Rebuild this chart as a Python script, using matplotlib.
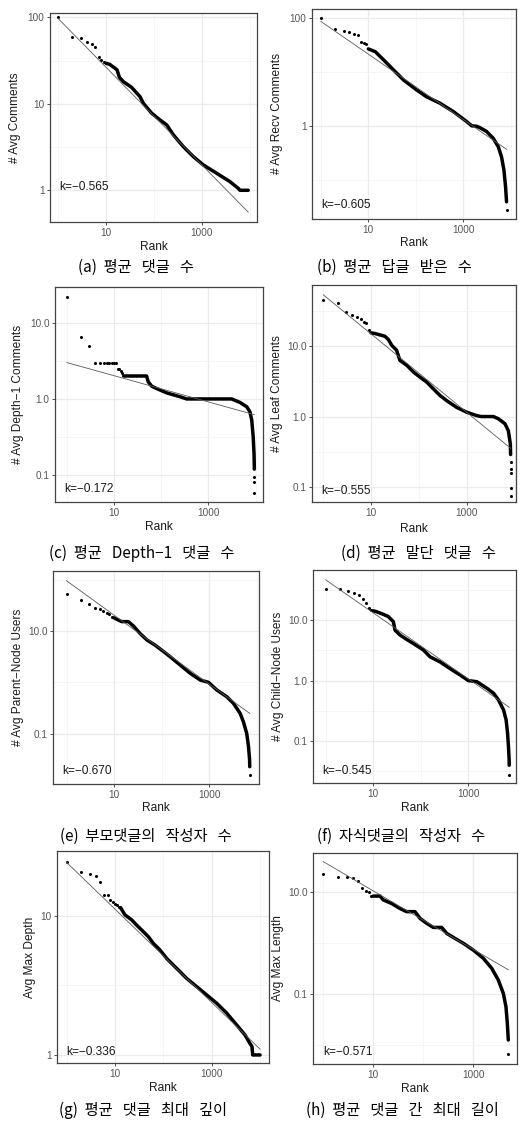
import numpy as np
import matplotlib
matplotlib.use("Agg")
import matplotlib.pyplot as plt
from matplotlib.ticker import FixedLocator, FixedFormatter, NullFormatter

plt.rcParams['font.family'] = ['Liberation Sans', 'DejaVu Sans']

W, H = 520, 1124

# ---------------- data ----------------
# (a) # Avg Comments
a_head_rank = [1, 2, 3, 4, 5, 6, 7, 8, 9]
a_head_val = [100, 59, 58, 52, 49, 45, 35, 32, 30]
a_body_rank = [10, 12, 15, 17, 19, 23, 34, 51, 60, 89, 133, 184, 253, 407, 660, 1070, 2030, 3820, 5730, 6200, 9200]
a_body_val = [29.4, 28.5, 26, 24.6, 20.2, 18, 15.5, 12.1, 10.1, 7.8, 6.5, 5.7, 4.37, 3.2, 2.45, 1.96, 1.57, 1.26, 1.05, 1.0, 1.0]
a_tail_rank = []
a_tail_val = []
a_k, a_c = -0.565, 97

# (b) # Avg Recv Comments
b_head_rank = [1, 2, 3, 4, 5, 6, 7, 8, 9]
b_head_val = [100, 62, 59, 55, 51, 48, 37, 35, 34]
b_body_rank = [10, 14, 21, 34, 55, 104, 169, 323, 617, 1180, 1500, 1900, 2200, 3100, 4270, 5450, 6400, 7180, 7770, 8150]
b_body_val = [27, 24, 16.9, 11, 7.2, 4.7, 3.5, 2.67, 1.87, 1.22, 1.02, 1.0, 0.95, 0.8, 0.6, 0.42, 0.27, 0.155, 0.076, 0.040]
b_tail_rank = [8160]
b_tail_val = [0.028]
b_k, b_c = -0.605, 87

# (c) # Avg Depth-1 Comments
c_head_rank = [1, 2, 3, 4, 5, 6, 7, 8, 9, 10, 11, 12, 13, 14, 15]
c_head_val = [22, 6.5, 5.0, 3.0, 3.0, 3.0, 3.0, 3.0, 3.0, 3.0, 3.0, 2.5, 2.5, 2.3, 2.2]
c_body_rank = [16, 49, 53, 63, 80, 131, 250, 346, 3120, 4680, 6500, 7600, 8300, 8920, 9300, 9440]
c_body_val = [2.0, 2.0, 1.68, 1.47, 1.37, 1.2, 1.07, 1.0, 1.0, 0.9, 0.79, 0.68, 0.53, 0.32, 0.19, 0.12]
c_tail_rank = [9441, 9442, 9443]
c_tail_val = [0.095, 0.082, 0.059]
c_k, c_c = -0.172, 3.0

# (d) # Avg Leaf Comments
d_head_rank = [1, 2, 3, 4, 5, 6, 7, 8, 9]
d_head_val = [44.8, 41, 29.8, 27.4, 25.3, 23.7, 22, 20.8, 16.7]
d_body_rank = [10, 12, 19.5, 23, 27, 34, 40, 56, 77, 106, 146, 200, 278, 380, 612, 1000, 1620, 2000, 3600, 4580, 6300, 7400, 8150, 8250]
d_body_val = [15.3, 15, 13.7, 12.3, 10.2, 8.7, 6.25, 5.3, 4.26, 3.6, 3.07, 2.47, 1.98, 1.68, 1.35, 1.15, 1.03, 1.0, 1.0, 0.93, 0.79, 0.63, 0.41, 0.29]
d_tail_rank = [8260, 8270, 8280, 8290, 8300]
d_tail_val = [0.23, 0.18, 0.16, 0.098, 0.074]
d_k, d_c = -0.555, 53

# (e) # Avg Parent-Node Users
e_head_rank = [1, 2, 3, 4, 5, 6, 7, 8, 9]
e_head_val = [51.8, 40, 33, 28.5, 26.4, 24.5, 22.8, 21, 19]
e_body_rank = [10, 11.4, 14.5, 20, 25.5, 35, 49, 73, 109, 151, 245, 400, 650, 970, 1450, 2350, 3250, 4480, 5260, 6180, 6740, 7100, 7150]
e_body_val = [18, 16.9, 15.2, 15.2, 12.5, 9, 6.7, 5.3, 4.0, 3.16, 2.18, 1.5, 1.11, 1.0, 0.71, 0.525, 0.39, 0.25, 0.171, 0.101, 0.056, 0.031, 0.0228]
e_tail_rank = [7160]
e_tail_val = [0.0157]
e_k, e_c = -0.670, 95

# (f) # Avg Child-Node Users
f_head_rank = [1, 2, 3, 4, 5, 6, 7, 8, 9]
f_head_val = [32.5, 32, 30.5, 28.3, 25.9, 22, 19, 16, 14.6]
f_body_rank = [10, 11.8, 16.3, 20.7, 26.4, 28.6, 36.5, 50, 69.5, 113, 156, 252, 410, 665, 1000, 1500, 2430, 3360, 4280, 5480, 6200, 6650, 6950, 7180, 7200]
f_body_val = [14.2, 13.7, 12.4, 11.4, 9.4, 6.8, 5.65, 4.8, 4.1, 3.2, 2.47, 2.04, 1.58, 1.24, 1.0, 0.96, 0.75, 0.62, 0.48, 0.327, 0.224, 0.135, 0.081, 0.049, 0.040]
f_tail_rank = [7210]
f_tail_val = [0.028]
f_k, f_c = -0.545, 46

# (g) Avg Max Depth
g_head_rank = [1, 2, 3, 4, 5, 6, 7, 8, 9, 10, 11, 12]
g_head_val = [24.3, 20.6, 20, 19.5, 17.5, 14.2, 14.2, 13, 12.6, 12.3, 12, 11.7]
g_body_rank = [13, 16, 22, 28, 36, 49, 62, 85, 117, 160, 220, 302, 490, 790, 1260, 2040, 3300, 4900, 6170, 6800, 7050, 10000]
g_body_val = [11.5, 10.2, 9.4, 8.6, 7.9, 7.1, 6.35, 5.7, 4.95, 4.44, 3.98, 3.56, 3.1, 2.7, 2.36, 2.0, 1.64, 1.39, 1.21, 1.15, 1.0, 1.0]
g_tail_rank = []
g_tail_val = []
g_k, g_c = -0.336, 24.3

# (h) Avg Max Length
h_head_rank = [1, 2, 3, 4, 5, 6, 7, 8, 9]
h_head_val = [22.1, 19, 19, 18.2, 16.4, 12, 10.3, 10, 8.3]
h_body_rank = [10, 13.6, 15.8, 23, 34, 46, 68, 86, 117, 158, 233, 293, 430, 630, 1000, 1580, 2330, 3160, 3980, 4500, 4790, 5010]
h_body_val = [8.2, 8.2, 6.9, 5.9, 4.7, 4.07, 4.07, 3.0, 2.4, 2.0, 2.0, 1.53, 1.22, 0.98, 0.72, 0.5, 0.318, 0.188, 0.103, 0.0565, 0.0267, 0.0126]
h_tail_rank = [5020]
h_tail_val = [0.0066]
h_k, h_c = -0.571, 38.5

x_ticks = [10, 1000]
x_ticklabels = ['10', '1000']

panels = [
    dict(head=(a_head_rank, a_head_val), body=(a_body_rank, a_body_val), tail=(a_tail_rank, a_tail_val),
         k=a_k, c=a_c, ylabel='# Avg Comments', caption='(a)  평균   댓글   수',
         yticks=[1, 10, 100], ylabels=['1', '10', '100']),
    dict(head=(b_head_rank, b_head_val), body=(b_body_rank, b_body_val), tail=(b_tail_rank, b_tail_val),
         k=b_k, c=b_c, ylabel='# Avg Recv Comments', caption='(b)  평균   답글   받은   수',
         yticks=[1, 100], ylabels=['1', '100']),
    dict(head=(c_head_rank, c_head_val), body=(c_body_rank, c_body_val), tail=(c_tail_rank, c_tail_val),
         k=c_k, c=c_c, ylabel='# Avg Depth\u22121 Comments', caption='(c)  평균   Depth\u22121   댓글   수',
         yticks=[0.1, 1, 10], ylabels=['0.1', '1.0', '10.0']),
    dict(head=(d_head_rank, d_head_val), body=(d_body_rank, d_body_val), tail=(d_tail_rank, d_tail_val),
         k=d_k, c=d_c, ylabel='# Avg Leaf Comments', caption='(d)  평균   말단   댓글   수',
         yticks=[0.1, 1, 10], ylabels=['0.1', '1.0', '10.0']),
    dict(head=(e_head_rank, e_head_val), body=(e_body_rank, e_body_val), tail=(e_tail_rank, e_tail_val),
         k=e_k, c=e_c, ylabel='# Avg Parent\u2212Node Users', caption='(e)  부모댓글의   작성자   수',
         yticks=[0.1, 10], ylabels=['0.1', '10.0']),
    dict(head=(f_head_rank, f_head_val), body=(f_body_rank, f_body_val), tail=(f_tail_rank, f_tail_val),
         k=f_k, c=f_c, ylabel='# Avg Child\u2212Node Users', caption='(f)  자식댓글의   작성자   수',
         yticks=[0.1, 1, 10], ylabels=['0.1', '1.0', '10.0']),
    dict(head=(g_head_rank, g_head_val), body=(g_body_rank, g_body_val), tail=(g_tail_rank, g_tail_val),
         k=g_k, c=g_c, ylabel='Avg Max Depth', caption='(g)  평균   댓글   최대   깊이',
         yticks=[1, 10], ylabels=['1', '10']),
    dict(head=(h_head_rank, h_head_val), body=(h_body_rank, h_body_val), tail=(h_tail_rank, h_tail_val),
         k=h_k, c=h_c, ylabel='Avg Max Length', caption='(h)  평균   댓글   간   최대   길이',
         yticks=[0.1, 10], ylabels=['0.1', '10.0']),
]

# ---------------- layout (pixels in the 520x1124 canvas) ----------------
layout = [
    dict(box=(50, 13, 257, 222), xlim=(0.68, 14000), ylim=(0.43, 112), ylab_x=15, xlab_y=247, cap=(136, 267), klab=(59, 187)),
    dict(box=(312, 9, 516, 219), xlim=(0.65, 12900), ylim=(0.0192, 148), ylab_x=277, xlab_y=243, cap=(394, 267), klab=(321, 205)),
    dict(box=(55, 287, 263, 502), xlim=(0.56, 14400), ylim=(0.0445, 29.4), ylab_x=18, xlab_y=527, cap=(142, 553), klab=(64, 489)),
    dict(box=(312, 285, 516, 502), xlim=(0.58, 10700), ylim=(0.0616, 73), ylab_x=277, xlab_y=529, cap=(418, 553), klab=(321, 491)),
    dict(box=(53, 571, 259, 784), xlim=(0.52, 11200), ylim=(0.0105, 147), ylab_x=18, xlab_y=808, cap=(146, 836), klab=(62, 771)),
    dict(box=(313, 570, 516, 783), xlim=(0.54, 10000), ylim=(0.0204, 67), ylab_x=278, xlab_y=808, cap=(401, 836), klab=(322, 771)),
    dict(box=(57, 851, 269, 1063), xlim=(0.63, 15300), ylim=(0.875, 29.4), ylab_x=30, xlab_y=1088, cap=(143, 1110), klab=(66, 1052)),
    dict(box=(313, 853, 517, 1064), xlim=(0.62, 7480), ylim=(0.00428, 57), ylab_x=278, xlab_y=1089, cap=(402, 1110), klab=(323, 1052)),
]


def minor_between(majors):
    # ggplot puts minor breaks halfway (in log space) between major breaks
    ratio = majors[1] / majors[0] if len(majors) > 1 else 10
    ext = [majors[0] / ratio] + list(majors) + [majors[-1] * ratio]
    return [np.sqrt(ext[i] * ext[i + 1]) for i in range(len(ext) - 1)]


fig = plt.figure(figsize=(W / 100, H / 100), dpi=100)
fig.patch.set_facecolor('white')

for p, lay in zip(panels, layout):
    l, t, r, b = lay['box']
    ax = fig.add_axes([l / W, 1 - b / H, (r - l) / W, (b - t) / H])
    ax.set_xscale('log')
    ax.set_yscale('log')
    ax.set_xlim(*lay['xlim'])
    ax.set_ylim(*lay['ylim'])

    ax.xaxis.set_major_locator(FixedLocator(x_ticks))
    ax.xaxis.set_major_formatter(FixedFormatter(x_ticklabels))
    ax.xaxis.set_minor_locator(FixedLocator(minor_between(x_ticks)))
    ax.xaxis.set_minor_formatter(NullFormatter())
    ax.yaxis.set_major_locator(FixedLocator(p['yticks']))
    ax.yaxis.set_major_formatter(FixedFormatter(p['ylabels']))
    ax.yaxis.set_minor_locator(FixedLocator(minor_between(p['yticks'])))
    ax.yaxis.set_minor_formatter(NullFormatter())

    ax.grid(which='major', color='#EBEBEB', lw=0.9)
    ax.grid(which='minor', color='#F2F2F2', lw=0.5)
    ax.set_axisbelow(True)
    ax.tick_params(which='major', length=2.5, width=0.6, color='#333333',
                   labelsize=7.2, labelcolor='#555555', pad=1.5)
    ax.tick_params(which='minor', length=0)
    for s in ax.spines.values():
        s.set_color('#444444')
        s.set_linewidth(0.9)

    hr, hv = p['head']
    br, bv = p['body']
    tr, tv = p['tail']
    ax.plot(br, bv, '-', color='black', lw=2.5, solid_capstyle='round', solid_joinstyle='round', zorder=2)
    ax.plot(hr, hv, 'o', color='black', ms=2.2, mew=0, zorder=2)
    if tr:
        ax.plot(tr, tv, 'o', color='black', ms=2.2, mew=0, zorder=2)

    all_r = list(hr) + list(br) + list(tr)
    fx = np.array([min(all_r), max(all_r)], dtype=float)
    ax.plot(fx, p['c'] * fx ** p['k'], color='#5a5a5a', lw=0.6, zorder=3)

    kx, ky = lay['klab']
    fig.text(kx / W, 1 - ky / H, 'k=' + f"{p['k']:.3f}".replace('-', '\u2212'),
             fontsize=8.6, color='#1a1a1a', ha='left', va='center')
    fig.text(lay['ylab_x'] / W, 1 - (t + b) / 2 / H, p['ylabel'], rotation=90,
             fontsize=8.6, color='#1a1a1a', ha='center', va='center')
    fig.text((l + r) / 2 / W, 1 - lay['xlab_y'] / H, 'Rank',
             fontsize=8.6, color='#1a1a1a', ha='center', va='center')
    cx, cy = lay['cap']
    fig.text(cx / W, 1 - cy / H, p['caption'], family=['Noto Sans CJK KR', 'DejaVu Sans'],
             fontsize=11, color='black', ha='center', va='center')

fig.savefig('out.png', dpi=100)
